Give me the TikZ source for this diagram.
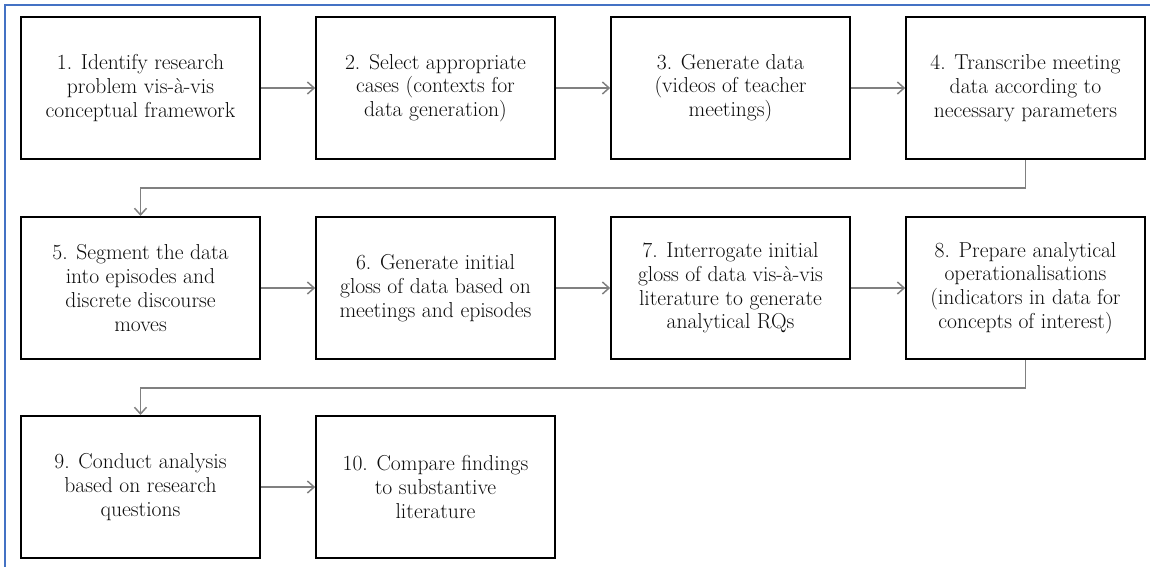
\documentclass[tikz,border=0pt]{standalone}
\usepackage{fontspec}
\usetikzlibrary{arrows.meta}

\definecolor{framecol}{RGB}{68,114,196}
\definecolor{txtcol}{RGB}{12,12,12}
\definecolor{linkcol}{RGB}{128,128,128}

\tikzset{
  stepbox/.style={draw=black,line width=1.5pt,fill=white,minimum width=179pt,minimum height=106.5pt,
    inner sep=2pt,align=center,text=txtcol,font=\fontsize{16.2}{17.8}\selectfont},
  link/.style={draw=linkcol,line width=1.1pt,-{Straight Barb[length=5pt,width=9pt,line width=1.1pt]}}
}

\begin{document}
\begin{tikzpicture}[x=0.75pt,y=0.75pt,yscale=-1,xscale=1]
\useasboundingbox (0,0) rectangle (1150,567);

%Frame
\draw [color=framecol,line width=1.6pt] (5,570) -- (5,5) -- (1153,5) ;

%Row 1
\node [stepbox] (s1) at (140.5,88) {1. Identify research\\problem vis-à-vis\\conceptual framework};
\node [stepbox] (s2) at (435.5,88) {2. Select appropriate\\cases (contexts for\\data generation)};
\node [stepbox] (s3) at (730.5,88) {3. Generate data\\(videos of teacher\\meetings)};
\node [stepbox] (s4) at (1025.5,88) {4. Transcribe meeting\\data according to\\necessary parameters};

%Row 2
\node [stepbox] (s5) at (140.5,288) {5. Segment the data\\into episodes and\\discrete discourse\\moves};
\node [stepbox] (s6) at (435.5,288) {6. Generate initial\\gloss of data based on\\meetings and episodes};
\node [stepbox] (s7) at (730.5,288) {7. Interrogate initial\\gloss of data vis-à-vis\\literature to generate\\analytical RQs};
\node [stepbox] (s8) at (1025.5,288) {8. Prepare analytical\\operationalisations\\(indicators in data for\\concepts of interest)};

%Row 3
\node [stepbox] (s9) at (140.5,487) {9. Conduct analysis\\based on research\\questions};
\node [stepbox] (s10) at (435.5,487) {10. Compare findings\\to substantive\\literature};

%Turn points
\coordinate (k1) at (1025.5,188);
\coordinate (k2) at (1025.5,388);

%Arrows
\draw [link] (s1) -- (s2) ;
\draw [link] (s2) -- (s3) ;
\draw [link] (s3) -- (s4) ;
\draw [link] (s4.south) -- (k1) -| (s5.north) ;
\draw [link] (s5) -- (s6) ;
\draw [link] (s6) -- (s7) ;
\draw [link] (s7) -- (s8) ;
\draw [link] (s8.south) -- (k2) -| (s9.north) ;
\draw [link] (s9) -- (s10) ;

\end{tikzpicture}
\end{document}
